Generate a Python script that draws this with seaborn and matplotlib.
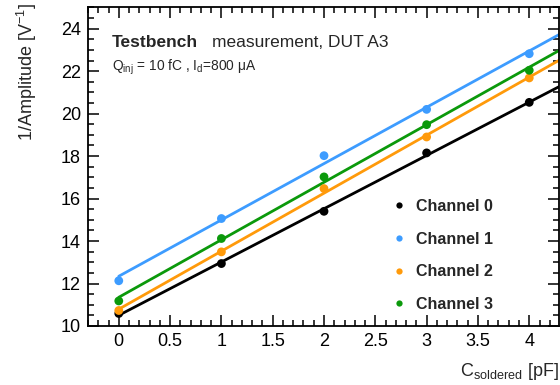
import numpy as np
import pandas as pd
import matplotlib
matplotlib.use('Agg')
import matplotlib.pyplot as plt
from matplotlib.lines import Line2D
from matplotlib.ticker import MultipleLocator
import seaborn as sns

# ---- data ----
capacitance = [0, 1, 2, 3, 4]          # C_soldered [pF]
channel_names = ['Channel 0', 'Channel 1', 'Channel 2', 'Channel 3']
ch0 = [10.59, 12.94, 15.40, 18.15, 20.53]
ch1 = [12.13, 15.06, 18.02, 20.20, 22.82]
ch2 = [10.73, 13.49, 16.47, 18.90, 21.68]
ch3 = [11.18, 14.12, 17.02, 19.48, 22.04]
colors = ['#000000', '#3d9cff', '#ff9a0a', '#0b990b']

sns.set_style('ticks')
plt.rcParams['font.family'] = ['Liberation Sans', 'DejaVu Sans']
plt.rcParams['mathtext.fontset'] = 'custom'
plt.rcParams['mathtext.rm'] = 'Liberation Sans'
plt.rcParams['mathtext.it'] = 'Liberation Sans:italic'
plt.rcParams['mathtext.bf'] = 'Liberation Sans:bold'

rows = []
for name, vals in zip(channel_names, [ch0, ch1, ch2, ch3]):
    for c, v in zip(capacitance, vals):
        rows.append({'C': c, 'inv_amp': v, 'channel': name})
df = pd.DataFrame(rows)

fig = plt.figure(figsize=(5.6, 3.85), dpi=100)
ax = fig.add_axes([88 / 560, 59 / 385, 471 / 560, 319 / 385])

xmin, xmax = -0.3, 4.29

# linear fits, drawn from x=0 to the right edge
fit_rows = []
for name in channel_names:
    sub = df[df.channel == name]
    slope, icpt = np.polyfit(sub.C, sub.inv_amp, 1)
    for xx in [0, xmax + 0.2]:
        fit_rows.append({'C': xx, 'inv_amp': slope * xx + icpt, 'channel': name})
fits = pd.DataFrame(fit_rows)

sns.lineplot(data=fits, x='C', y='inv_amp', hue='channel', palette=colors,
             linewidth=2, legend=False, ax=ax)
sns.scatterplot(data=df, x='C', y='inv_amp', hue='channel', palette=colors,
                s=40, edgecolor='none', legend=False, ax=ax, zorder=3)

ax.set_xlim(xmin, xmax)
ax.set_ylim(10, 25.02)
ax.xaxis.set_major_locator(MultipleLocator(0.5))
ax.xaxis.set_minor_locator(MultipleLocator(0.1))
ax.yaxis.set_major_locator(MultipleLocator(2))
ax.yaxis.set_minor_locator(MultipleLocator(0.5))
ax.set_xticks(np.arange(0, 4.01, 0.5))
ax.set_xticklabels(['0', '0.5', '1', '1.5', '2', '2.5', '3', '3.5', '4'])
ax.tick_params(which='both', direction='in', top=True, right=True,
               width=1.1, labelsize=13, colors='black')
ax.tick_params(which='major', length=8, pad=5)
ax.tick_params(which='minor', length=4)
for sp in ax.spines.values():
    sp.set_linewidth(1.3)
    sp.set_color('black')

ax.set_xlabel(r'C$_{\mathrm{soldered}}$ [pF]', fontsize=13, loc='right')
ax.xaxis.set_label_coords(1.0, -0.111)
ax.xaxis.label.set_va('top')
ax.set_ylabel(r'1/Amplitude [V$^{-1}$]', fontsize=13, loc='top')
ax.yaxis.set_label_coords(-0.104, 1.012)

ax.text(0.051, 0.876, 'Testbench', transform=ax.transAxes, fontsize=12.5,
        fontweight='bold', ha='left', va='baseline')
ax.text(0.263, 0.876, 'measurement, DUT A3', transform=ax.transAxes,
        fontsize=12.5, ha='left', va='baseline')
ax.text(0.051, 0.80, r'Q$_{\mathrm{inj}}$ = 10 fC , I$_{\mathrm{d}}$=800 μA',
        transform=ax.transAxes, fontsize=9.9, ha='left', va='baseline')

handles = [Line2D([], [], marker='o', linestyle='none', color=c,
                  markersize=4.5, markeredgewidth=0) for c in colors]
ax.legend(handles, channel_names, loc='upper left',
          bbox_to_anchor=(0.643, 0.398), frameon=False, borderaxespad=0,
          borderpad=0, handlelength=1.0, handletextpad=0.56,
          labelspacing=1.1, prop={'weight': 'bold', 'size': 11.5})

fig.savefig('out.png', dpi=100)
